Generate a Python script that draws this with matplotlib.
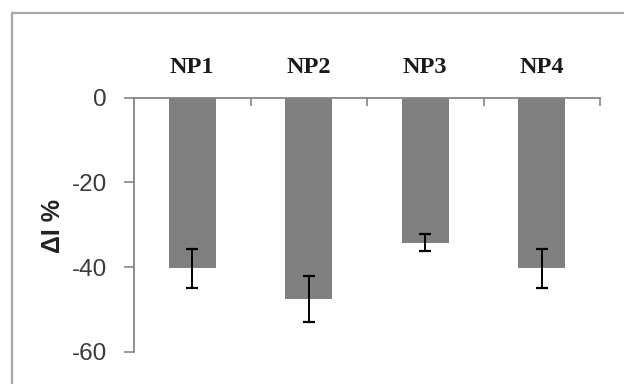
import matplotlib
matplotlib.use("Agg")
import matplotlib.pyplot as plt
from matplotlib.lines import Line2D
import numpy as np

categories = ["NP1", "NP2", "NP3", "NP4"]
delta_i = [-40.2, -47.5, -34.2, -40.2]
errors = [4.6, 5.5, 2.1, 4.6]
yticks = [0, -20, -40, -60]

W, H = 624, 384
fig = plt.figure(figsize=(W / 100, H / 100), dpi=100)
fig.patch.set_facecolor("white")

# axes box in pixel terms: left 134, right 600, top 97.5, bottom 352
ax = fig.add_axes([134 / W, 1 - 352 / H, (600 - 134) / W, (352 - 97.5) / H])

x = np.arange(len(categories)) + 0.5
ax.bar(x, delta_i, width=0.4, color="#808080", edgecolor="none", zorder=2)
ax.errorbar(x, delta_i, yerr=errors, fmt="none", ecolor="black",
            elinewidth=1.4, capsize=4.3, capthick=1.6, zorder=3)

ax.set_xlim(0, 4)
ax.set_ylim(-60, 0)

axis_grey = "#868686"
for side in ("right", "bottom"):
    ax.spines[side].set_visible(False)
for side in ("top", "left"):
    ax.spines[side].set_color(axis_grey)
    ax.spines[side].set_linewidth(1.3)

# category axis along the top: boundary ticks pointing in, names centred
ax.xaxis.tick_top()
ax.set_xticks([1, 2, 3, 4])
ax.set_xticklabels([])
ax.set_xticks(x, minor=True)
ax.set_xticklabels(categories, minor=True, family="Liberation Serif",
                   fontsize=17.5, fontweight="bold", color="#1a1a1a")
ax.tick_params(axis="x", which="major", direction="in", length=6,
               width=1.2, color=axis_grey)
ax.tick_params(axis="x", which="minor", length=0, pad=14)

ax.set_yticks(yticks)
ax.set_yticklabels([str(v) for v in yticks], family="Liberation Sans",
                   fontsize=17.5, color="#3a3a3a")
ax.tick_params(axis="y", direction="out", length=7.5, width=1.2,
               color=axis_grey, pad=12)

fig.text(53 / W, 1 - 226 / H, "ΔI %", rotation=90, ha="center", va="center",
         family="Liberation Sans", fontweight="bold", fontsize=18,
         color="#222222")

# chart-area frame, running off the right and bottom edges
frame = Line2D([12 / W, 12 / W, 1.0], [0.0, 1 - 13 / H, 1 - 13 / H],
               transform=fig.transFigure, color="#a6a6a6", linewidth=1.6)
fig.add_artist(frame)

fig.savefig("out.png", dpi=100, facecolor="white")
